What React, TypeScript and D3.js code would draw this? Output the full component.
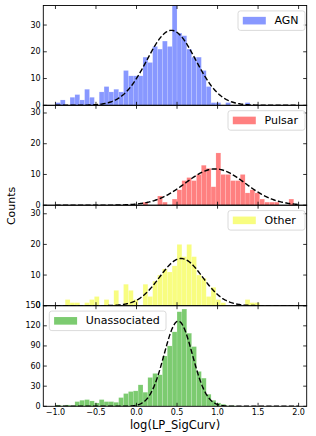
import React from "react";
import * as d3 from "d3";

// histogram bins shared by all panels
const binStart = -1.0;
const binWidth = 0.06;

const agnCounts = [1, 2, 0, 3, 4, 2, 6, 3, 0, 5, 7, 5, 6, 5, 13, 11, 11, 11, 18, 16, 22, 21, 24, 22, 40, 27, 26, 21, 18, 18, 13, 7, 1, 1, 0, 1, 0, 0, 0, 1];
const pulsarCounts = [0, 0, 0, 0, 0, 0, 0, 0, 0, 0, 0, 0, 0, 0, 0, 0, 0, 0, 1, 0, 0, 3, 1, 0, 2, 5, 8, 9, 8, 10, 13, 12, 6, 17, 10, 10, 8, 8, 10, 4, 5, 4, 2, 1, 1, 1, 0, 0, 2];
const otherCounts = [0, 0, 2, 1, 1, 0, 1, 2, 3, 0, 2, 0, 5, 0, 7, 5, 2, 0, 7, 3, 8, 10, 12, 11, 13, 20, 16, 20, 16, 10, 9, 3, 6, 2, 1, 0, 0, 0, 0, 2, 1, 1];
const unassocCounts = [2, 1, 2, 1, 7, 9, 10, 8, 5, 10, 7, 7, 6, 13, 19, 22, 23, 32, 21, 43, 49, 47, 75, 90, 111, 141, 145, 109, 89, 52, 42, 18, 9, 5, 3, 1, 1];

const categories = ["AGN", "Pulsar", "Other", "Unassociated"];
const seriesCounts = [agnCounts, pulsarCounts, otherCounts, unassocCounts];

// gaussian fits (dashed curves)
const fitMu = [0.43, 0.97, 0.55, 0.515];
const fitSigma = [0.3, 0.37, 0.265, 0.175];
const fitPeak = [28, 11.8, 15.4, 127];

const yMax = [37.3, 32.5, 32.8, 150];
const yTicks = [
  [0, 10, 20, 30],
  [0, 10, 20, 30],
  [0, 10, 20, 30],
  [0, 30, 60, 90, 120, 150],
];
const xTicks = [-1, -0.5, 0, 0.5, 1, 1.5, 2];

const colors = ["#8898ff", "#ff8080", "#f8fd80", "#7ccb70"];

const W = 316;
const H = 436;
const left = 43.3;
const right = 306.7;
const panelTops = [5.5, 105.3, 205.2, 305.7, 406.3];
const font = "DejaVu Sans, sans-serif";

const x = d3.scaleLinear().domain([-1.15, 2.1]).range([left, right]);
const fmt = d3.format(".1f");

const Legend = ({ i, top }: { i: number; top: number }) => {
  const onLeft = i === 3;
  const boxW = onLeft ? 116.7 : i === 0 ? 67 : 77;
  const bx = onLeft ? 49.3 : right - 1.7 - boxW;
  const by = top + 5.4;
  const bh = 19.5;
  return (
    <g>
      <rect x={bx} y={by} width={boxW} height={bh} rx={2.5} fill="white" fillOpacity={0.8} stroke="#d0d0d0" strokeWidth={0.8} />
      <rect x={bx + 4.8} y={by + bh / 2 - 3.8} width={23} height={7.6} fill={colors[i]} />
      <text x={bx + 36.5} y={by + bh / 2} dominantBaseline="central" fontSize={11} fontFamily={font} fill="#000">
        {categories[i]}
      </text>
    </g>
  );
};

const Panel = ({ i }: { i: number }) => {
  const top = panelTops[i];
  const bottom = panelTops[i + 1];
  const y = d3.scaleLinear().domain([0, yMax[i]]).range([bottom, top]);
  const counts = seriesCounts[i];
  const curve = d3
    .line<number>()
    .x((v) => x(v))
    .y((v) => y(fitPeak[i] * Math.exp(-0.5 * ((v - fitMu[i]) / fitSigma[i]) ** 2)));
  const grid = d3.range(-1.0, 2.0001, 0.01);
  const tick = 3.5;
  return (
    <g>
      <defs>
        <clipPath id={`clip${i}`}>
          <rect x={left} y={top} width={right - left} height={bottom - top} />
        </clipPath>
      </defs>
      <g clipPath={`url(#clip${i})`}>
        {counts.map((c, k) =>
          c > 0 ? (
            <rect
              key={k}
              x={x(binStart + k * binWidth)}
              y={y(c)}
              width={x(binStart + (k + 1) * binWidth) - x(binStart + k * binWidth)}
              height={y(0) - y(c)}
              fill={colors[i]}
              stroke="#ffffff"
              strokeOpacity={0.35}
              strokeWidth={0.4}
            />
          ) : null
        )}
        <path d={curve(grid) || ""} fill="none" stroke="#000" strokeWidth={1.4} strokeDasharray="5.2,2.3" />
      </g>
      {/* ticks inward on all sides */}
      {xTicks.map((t) => (
        <g key={`x${t}`} stroke="#000" strokeWidth={0.8}>
          <line x1={x(t)} x2={x(t)} y1={bottom} y2={bottom - tick} />
          <line x1={x(t)} x2={x(t)} y1={top} y2={top + tick} />
        </g>
      ))}
      {yTicks[i].map((t) => (
        <g key={`y${t}`}>
          <line x1={left} x2={left + tick} y1={y(t)} y2={y(t)} stroke="#000" strokeWidth={0.8} />
          <line x1={right} x2={right - tick} y1={y(t)} y2={y(t)} stroke="#000" strokeWidth={0.8} />
          <text x={left - 2.6} y={y(t)} textAnchor="end" dominantBaseline="central" fontSize={8} fontFamily={font} fill="#000">
            {t}
          </text>
        </g>
      ))}
      <rect x={left} y={top} width={right - left} height={bottom - top} fill="none" stroke="#000" strokeWidth={0.9} />
      <Legend i={i} top={top} />
    </g>
  );
};

export default function App() {
  const bottom = panelTops[4];
  return (
    <svg width={W} height={H} style={{ position: "absolute", left: 0, top: 0, background: "#fff" }}>
      {categories.map((_, i) => (
        <Panel key={i} i={i} />
      ))}
      {xTicks.map((t) => (
        <text key={t} x={x(t)} y={bottom + 6.4} textAnchor="middle" dominantBaseline="central" fontSize={8} fontFamily={font} fill="#000">
          {fmt(t)}
        </text>
      ))}
      <text x={(left + right) / 2} y={bottom + 19} textAnchor="middle" dominantBaseline="central" fontSize={11.5} fontFamily={font} fill="#000">
        log(LP_SigCurv)
      </text>
      <text
        transform={`translate(11,${(panelTops[0] + bottom) / 2}) rotate(-90)`}
        textAnchor="middle"
        dominantBaseline="central"
        fontSize={11}
        fontFamily={font}
        fill="#000"
      >
        Counts
      </text>
    </svg>
  );
}
